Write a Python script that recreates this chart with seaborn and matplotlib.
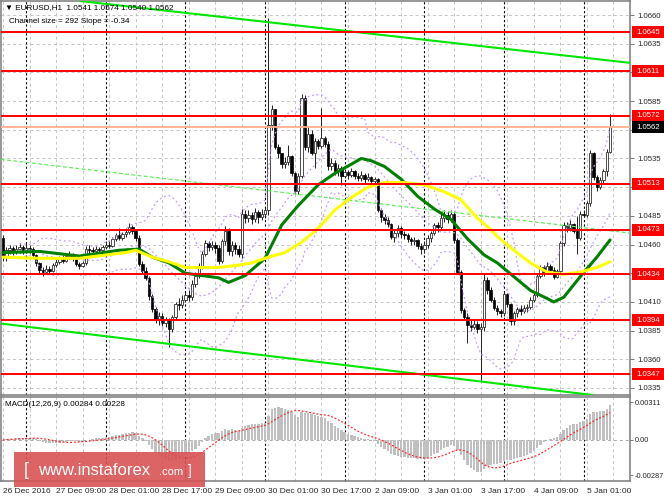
import numpy as np
import pandas as pd
import matplotlib
matplotlib.use("Agg")
import matplotlib.pyplot as plt
import matplotlib.transforms as mtransforms
from matplotlib.patches import Rectangle
import seaborn as sns

# ---------------- values ----------------
first_open = 1.0466

closes = [
    1.0449, 1.0455, 1.0457, 1.0454, 1.0456, 1.0458, 1.0455, 1.0457, 1.0456, 1.0451,
    1.0444, 1.0438, 1.0436, 1.0439, 1.0437, 1.0442, 1.0445, 1.0448, 1.0446, 1.0450,
    1.0451, 1.0449, 1.0443, 1.0441, 1.0444, 1.0456, 1.0455, 1.0454, 1.0456, 1.0455,
    1.0458, 1.0460, 1.0459, 1.0465, 1.0468, 1.0466, 1.0469,
    1.0471, 1.0475, 1.0472, 1.0466, 1.0443, 1.0437, 1.0431, 1.0415, 1.0404, 1.0395,
    1.0398, 1.0392, 1.0394, 1.0386, 1.0397, 1.0408, 1.0407, 1.0412, 1.0416, 1.0414,
    1.0426, 1.0433, 1.0441, 1.0452, 1.0461, 1.0458, 1.0460, 1.0457, 1.0446, 1.0463,
    1.0472, 1.0454, 1.0460, 1.0456, 1.0452, 1.0487,
    1.0483, 1.0486, 1.0482, 1.0488, 1.0484, 1.0487, 1.0490, 1.0564, 1.0578, 1.0545,
    1.0540, 1.0530, 1.0532, 1.0537, 1.0522, 1.0507, 1.0520, 1.0588, 1.0545, 1.0556,
    1.0540, 1.0550, 1.0546, 1.0553, 1.0548, 1.0528, 1.0531, 1.0524, 1.0527, 1.0520,
    1.0523, 1.0521, 1.0524, 1.0520, 1.0518, 1.0521,
    1.0517, 1.0519, 1.0515, 1.0517, 1.0490, 1.0484, 1.0481, 1.0478, 1.0467, 1.0470,
    1.0474, 1.0469, 1.0468, 1.0465, 1.0463, 1.0464, 1.0459, 1.0456, 1.0460, 1.0466,
    1.0470, 1.0477, 1.0475, 1.0483, 1.0486, 1.0482, 1.0487, 1.0464, 1.0436, 1.0403,
    1.0397, 1.0390, 1.0388, 1.0391, 1.0386, 1.0388, 1.0429, 1.0420, 1.0412, 1.0405,
    1.0402, 1.0400, 1.0417, 1.0408, 1.0393, 1.0400, 1.0404, 1.0402, 1.0405, 1.0406,
    1.0412, 1.0416, 1.0433, 1.0440, 1.0436, 1.0441, 1.0438, 1.0432, 1.0437, 1.0461,
    1.0477, 1.0474, 1.0478, 1.0472, 1.0466, 1.0487, 1.0486, 1.0496, 1.0540, 1.0519,
    1.0510, 1.0516, 1.0524, 1.0541, 1.0562,
]

highs = [
    1.0468, 1.0458, 1.0460, 1.0459, 1.0460, 1.0461, 1.0460, 1.0461, 1.0460, 1.0458,
    1.0452, 1.0445, 1.0440, 1.0442, 1.0441, 1.0444, 1.0447, 1.0450, 1.0451, 1.0452,
    1.0454, 1.0453, 1.0450, 1.0445, 1.0446, 1.0459, 1.0460, 1.0458, 1.0459, 1.0458,
    1.0460, 1.0463, 1.0463, 1.0467, 1.0470, 1.0474, 1.0471,
    1.0474, 1.0479, 1.0477, 1.0473, 1.0468, 1.0446, 1.0440, 1.0433, 1.0417, 1.0406,
    1.0401, 1.0400, 1.0397, 1.0396, 1.0399, 1.0410, 1.0413, 1.0416, 1.0419, 1.0420,
    1.0429, 1.0436, 1.0444, 1.0454, 1.0464, 1.0463, 1.0463, 1.0462, 1.0460, 1.0465,
    1.0476, 1.0474, 1.0463, 1.0462, 1.0460, 1.0491,
    1.0490, 1.0490, 1.0488, 1.0492, 1.0490, 1.0491, 1.0493, 1.0657, 1.0582, 1.0574,
    1.0548, 1.0540, 1.0536, 1.0547, 1.0538, 1.0523, 1.0522, 1.0591, 1.0590, 1.0562,
    1.0560, 1.0553, 1.0552, 1.0579, 1.0555, 1.0550, 1.0535, 1.0534, 1.0530, 1.0528,
    1.0526, 1.0525, 1.0527, 1.0525, 1.0522, 1.0524,
    1.0522, 1.0522, 1.0520, 1.0519, 1.0518, 1.0492, 1.0487, 1.0484, 1.0479, 1.0473,
    1.0477, 1.0476, 1.0472, 1.0470, 1.0467, 1.0467, 1.0465, 1.0461, 1.0463, 1.0468,
    1.0472, 1.0479, 1.0480, 1.0487, 1.0490, 1.0489, 1.0490, 1.0489, 1.0466, 1.0438,
    1.0405, 1.0400, 1.0394, 1.0394, 1.0393, 1.0392, 1.0435, 1.0432, 1.0423, 1.0414,
    1.0407, 1.0404, 1.0419, 1.0418, 1.0409, 1.0402, 1.0406, 1.0407, 1.0407, 1.0408,
    1.0414, 1.0419, 1.0435, 1.0442, 1.0442, 1.0445, 1.0443, 1.0440, 1.0439, 1.0463,
    1.0480, 1.0480, 1.0481, 1.0479, 1.0485, 1.0489, 1.0490, 1.0498, 1.0542, 1.0541,
    1.0521, 1.0519, 1.0526, 1.0543, 1.0574,
]

lows = [
    1.0446, 1.0446, 1.0452, 1.0451, 1.0452, 1.0453, 1.0452, 1.0453, 1.0453, 1.0449,
    1.0441, 1.0435, 1.0433, 1.0434, 1.0434, 1.0436, 1.0440, 1.0443, 1.0444, 1.0445,
    1.0447, 1.0446, 1.0441, 1.0439, 1.0440, 1.0442, 1.0452, 1.0451, 1.0452, 1.0453,
    1.0453, 1.0456, 1.0457, 1.0458, 1.0463, 1.0464, 1.0464,
    1.0467, 1.0469, 1.0469, 1.0463, 1.0441, 1.0434, 1.0429, 1.0412, 1.0401, 1.0392,
    1.0390, 1.0389, 1.0388, 1.0371, 1.0384, 1.0395, 1.0403, 1.0405, 1.0410, 1.0411,
    1.0412, 1.0423, 1.0431, 1.0439, 1.0450, 1.0454, 1.0455, 1.0453, 1.0443, 1.0444,
    1.0460, 1.0451, 1.0450, 1.0452, 1.0449, 1.0448,
    1.0479, 1.0480, 1.0478, 1.0480, 1.0479, 1.0481, 1.0483, 1.0486, 1.0560, 1.0543,
    1.0535, 1.0527, 1.0527, 1.0529, 1.0520, 1.0504, 1.0504, 1.0518, 1.0542, 1.0541,
    1.0538, 1.0527, 1.0543, 1.0544, 1.0545, 1.0525, 1.0525, 1.0521, 1.0520, 1.0512,
    1.0518, 1.0517, 1.0519, 1.0517, 1.0515, 1.0515,
    1.0514, 1.0515, 1.0512, 1.0513, 1.0488, 1.0480, 1.0478, 1.0475, 1.0465, 1.0462,
    1.0467, 1.0466, 1.0465, 1.0462, 1.0460, 1.0460, 1.0456, 1.0452, 1.0453, 1.0457,
    1.0462, 1.0468, 1.0471, 1.0473, 1.0480, 1.0479, 1.0480, 1.0461, 1.0434, 1.0400,
    1.0394, 1.0374, 1.0385, 1.0386, 1.0383, 1.0340, 1.0385, 1.0417, 1.0410, 1.0403,
    1.0399, 1.0397, 1.0398, 1.0406, 1.0390, 1.0390, 1.0397, 1.0399, 1.0400, 1.0401,
    1.0404, 1.0410, 1.0414, 1.0431, 1.0433, 1.0434, 1.0435, 1.0430, 1.0431, 1.0435,
    1.0459, 1.0471, 1.0472, 1.0470, 1.0452, 1.0464, 1.0484, 1.0484, 1.0494, 1.0516,
    1.0507, 1.0508, 1.0514, 1.0520, 1.0540,
]

# moving averages
green_bars = [0, 11, 23, 35, 41, 45, 50, 55, 60, 65, 68, 73, 79, 84, 89, 95, 100, 105,
              108, 111, 115, 120, 125, 130, 135, 140, 145, 149, 154, 159, 164, 166, 169,
              174, 179, 183]
green_vals = [1.0453, 1.0454, 1.0450, 1.0455, 1.0456, 1.0449, 1.0444, 1.0435, 1.0433,
              1.0431, 1.0427, 1.0433, 1.0448, 1.0477, 1.0494, 1.0512, 1.0522, 1.0530,
              1.0535, 1.0533, 1.0528, 1.0517, 1.0502, 1.0491, 1.0482, 1.0465, 1.0451,
              1.0444, 1.0432, 1.0420, 1.0413, 1.0410, 1.0414, 1.0432, 1.0449, 1.0464]
yellow_bars = [0, 11, 23, 37, 40, 45, 50, 55, 60, 65, 71, 75, 80, 85, 90, 95, 100, 105,
               110, 115, 121, 127, 133, 138, 143, 147, 149, 154, 159, 164, 169, 174, 179, 183]
yellow_vals = [1.0449, 1.0448, 1.0448, 1.0453, 1.0455, 1.0449, 1.0445, 1.0440, 1.0440,
               1.0440, 1.0442, 1.0444, 1.0449, 1.0453, 1.0462, 1.0474, 1.0490, 1.0501,
               1.0510, 1.0514, 1.0514, 1.0512, 1.0506, 1.0499, 1.0483, 1.0473, 1.0467,
               1.0455, 1.0444, 1.0436, 1.0434, 1.0436, 1.0440, 1.0445]

# support / resistance levels and bid
levels = [1.0645, 1.0611, 1.0572, 1.0513, 1.0473, 1.0434, 1.0394, 1.0347]
bid = 1.0562

# trend lines (two anchor points each)
channel_top_bars = [71.5, 188.4]
channel_top_vals = [1.06565, 1.06185]
channel_bot_bars = [35.3, 145.3]
channel_bot_vals = [1.03786, 1.03402]
trend_bars = [35.3, 186.0]
trend_vals = [1.0522, 1.0471]

# axis texts
price_ticks = [1.0335, 1.0360, 1.0385, 1.0410, 1.0435, 1.0460, 1.0485, 1.0510,
               1.0535, 1.0560, 1.0585, 1.0610, 1.0635, 1.0660]
hidden_ticks = [1.0435, 1.0510, 1.0560, 1.0610]   # covered by level boxes
time_label_bars = [0, 16, 32, 48, 64, 80, 96, 112, 128, 144, 160, 176]
time_labels = ["26 Dec 2016", "27 Dec 09:00", "28 Dec 01:00", "28 Dec 17:00",
               "29 Dec 09:00", "30 Dec 01:00", "30 Dec 17:00", "2 Jan 09:00",
               "3 Jan 01:00", "3 Jan 17:00", "4 Jan 09:00", "5 Jan 01:00"]
day_start_bars = [7, 31, 55, 79, 103, 127, 151, 175]
macd_ticks = [-0.00287, 0.0, 0.00311]
macd_tick_labels = ["-0.00287", "0.00", "0.00311"]

header_line1 = "\u25BC EURUSD,H1  1.0541 1.0574 1.0540 1.0562"
header_line2 = "Channel size = 292 Slope = -0.34"
macd_title = "MACD(12,26,9) 0.00284 0.00228"

# ---------------- derived frame ----------------
n = len(closes)
df = pd.DataFrame({
    "bar": np.arange(n),
    "open": [first_open] + closes[:-1],
    "high": highs,
    "low": lows,
    "close": closes,
})
df["wick_hi"] = df[["high", "open", "close"]].max(axis=1)
df["wick_lo"] = df[["low", "open", "close"]].min(axis=1)

# indicators computed from the closes
cs = df["close"]
ema12 = cs.ewm(span=12, adjust=False).mean()
ema26 = cs.ewm(span=26, adjust=False).mean()
df["macd"] = ema12 - ema26
df["signal"] = df["macd"].rolling(9, min_periods=1).mean()
mid = cs.rolling(20, min_periods=6).mean()
sd = cs.rolling(20, min_periods=6).std(ddof=0)
df["bb_mid"] = mid
df["bb_up"] = mid + 2 * sd
df["bb_lo"] = mid - 2 * sd

# ---------------- style ----------------
sns.set_style("white")
plt.rcParams["font.family"] = ["Liberation Sans", "DejaVu Sans"]

W, H = 664, 498
fig = plt.figure(figsize=(W / 100, H / 100), dpi=100)
fig.patch.set_facecolor("white")

AX_W_PX = 629
ax = fig.add_axes([1 / W, (H - 395) / H, AX_W_PX / W, 394 / H])
ax2 = fig.add_axes([1 / W, (H - 481) / H, AX_W_PX / W, 84 / H])

XMIN, XMAX = -0.6, 189.0
YMIN, YMAX = 1.03289, 1.06722
PX_PER_PRICE = 394 / (YMAX - YMIN)

grid_c = "#c4c4c4"
dash = (0, (3, 3))
FS = 5.6

for a in (ax, ax2):
    a.set_xlim(XMIN, XMAX)
    for b in range(0, 190, 8):
        a.axvline(b, color=grid_c, lw=0.7, ls=dash, zorder=0)
    for b in day_start_bars:
        a.axvline(b, color="black", lw=0.8, ls=(0, (2, 2)), zorder=0.5)
    for s in a.spines.values():
        s.set_color("#7a7a7a")
        s.set_linewidth(1.1)
    a.set_facecolor("white")

# ---------------- main price panel ----------------
ax.set_ylim(YMIN, YMAX)
for t in price_ticks:
    ax.axhline(t, color=grid_c, lw=0.7, ls=dash, zorder=0)

# candles
up = df["close"] >= df["open"]
ax.vlines(df["bar"], df["wick_lo"], df["wick_hi"], color="#202020", lw=0.7, zorder=3)
ax.bar(df.loc[up, "bar"], (df["close"] - df["open"])[up], bottom=df.loc[up, "open"],
       width=0.72, facecolor="white", edgecolor="#303030", linewidth=0.6, zorder=3.5)
ax.bar(df.loc[~up, "bar"], (df["open"] - df["close"])[~up], bottom=df.loc[~up, "close"],
       width=0.72, facecolor="black", edgecolor="black", linewidth=0.5, zorder=3.5)

# bollinger bands (dotted lavender)
bb_long = df.melt(id_vars="bar", value_vars=["bb_up", "bb_mid", "bb_lo"],
                  var_name="band", value_name="price")
sns.lineplot(data=bb_long, x="bar", y="price", units="band", estimator=None,
             color="#c79cf0", lw=0.9, ls=(0, (1.5, 2.2)), ax=ax, zorder=4, legend=False)

# moving averages
sns.lineplot(x=green_bars, y=green_vals, color="#008000", lw=2.2, ax=ax, zorder=5)
sns.lineplot(x=yellow_bars, y=yellow_vals, color="#ffff00", lw=2.2, ax=ax, zorder=5)

# trend lines
ax.axline((trend_bars[0], trend_vals[0]), (trend_bars[1], trend_vals[1]),
          color="#5cf05c", lw=0.9, ls=(0, (3, 2)), zorder=4)
ax.axline((channel_top_bars[0], channel_top_vals[0]), (channel_top_bars[1], channel_top_vals[1]),
          color="#00e600", lw=1.5, zorder=5)
ax.axline((channel_bot_bars[0], channel_bot_vals[0]), (channel_bot_bars[1], channel_bot_vals[1]),
          color="#00e600", lw=1.5, zorder=5)

# levels
for lv in levels:
    ax.axhline(lv, color="#ff0000", lw=1.4, zorder=6)
ax.axhline(bid, color="#ffb08c", lw=1.3, zorder=5.5)

ax.yaxis.tick_right()
ax.set_yticks(price_ticks)
ax.set_yticklabels(["" if t in hidden_ticks else f"{t:.4f}" for t in price_ticks])
ax.tick_params(axis="y", labelsize=FS, length=3, width=0.6, color="#606060", pad=2)
ax.tick_params(axis="x", length=0, labelbottom=False)
ax.set_xlabel("")
ax.set_ylabel("")

# price label boxes on the right scale
trans = mtransforms.blended_transform_factory(ax.transAxes, ax.transData)
box_h = 12 / PX_PER_PRICE
box_x0 = 1 + 2 / AX_W_PX
box_w = 34 / AX_W_PX


def price_box(value, color, z):
    ax.add_patch(Rectangle((box_x0, value - box_h / 2), box_w, box_h, transform=trans,
                           facecolor=color, edgecolor="none", clip_on=False, zorder=z))
    ax.text(box_x0 + 4 / AX_W_PX, value, f"{value:.4f}", transform=trans, fontsize=FS,
            color="white", ha="left", va="center", clip_on=False, zorder=z + 0.5)


for lv in levels:
    price_box(lv, "#ff0000", 20)
price_box(bid, "black", 22)

# ---------------- MACD panel ----------------
ax2.set_ylim(-0.00336, 0.00352)
ax2.axhline(0, color="#a8a8a8", lw=0.7, ls=dash, zorder=0.6)
ax2.bar(df["bar"], df["macd"], width=0.72, color="#c0c0c0", linewidth=0, zorder=2)
sns.lineplot(data=df, x="bar", y="signal", color="#ff2a2a", lw=0.9,
             ls=(0, (1.5, 1.5)), ax=ax2, zorder=3)
ax2.yaxis.tick_right()
ax2.set_yticks(macd_ticks)
ax2.set_yticklabels(macd_tick_labels)
ax2.tick_params(axis="y", labelsize=5.3, length=2, width=0.6, color="#606060", pad=1.5)
ax2.set_xticks(time_label_bars)
ax2.set_xticklabels(time_labels, ha="left")
ax2.tick_params(axis="x", labelsize=6.0, length=3, width=0.6, color="#606060", pad=2)
ax2.set_xlabel("")
ax2.set_ylabel("")

# ---------------- overlay texts ----------------
ov = fig.add_axes([0, 0, 1, 1], zorder=30)
ov.set_xlim(0, W)
ov.set_ylim(H, 0)
ov.axis("off")
ov.patch.set_alpha(0)

ov.text(5, 8, header_line1, fontsize=5.9, color="black", ha="left", va="center")
ov.text(9, 21, header_line2, fontsize=5.9, color="black", ha="left", va="center")
ov.text(5, 404, macd_title, fontsize=5.9, color="black", ha="left", va="center")

ov.add_patch(Rectangle((14, 452), 191, 35, facecolor="#d94f4f", alpha=0.88,
                       edgecolor="none"))
ov.text(24, 470, "[", fontsize=13, color="white", ha="left", va="center")
ov.text(38, 470, "www.instaforex", fontsize=12, color="white", ha="left", va="center")
ov.text(159, 472, ".com", fontsize=8, color="white", ha="left", va="center")
ov.text(188, 471, "]", fontsize=10, color="white", ha="left", va="center")

fig.savefig("out.png", dpi=100)
